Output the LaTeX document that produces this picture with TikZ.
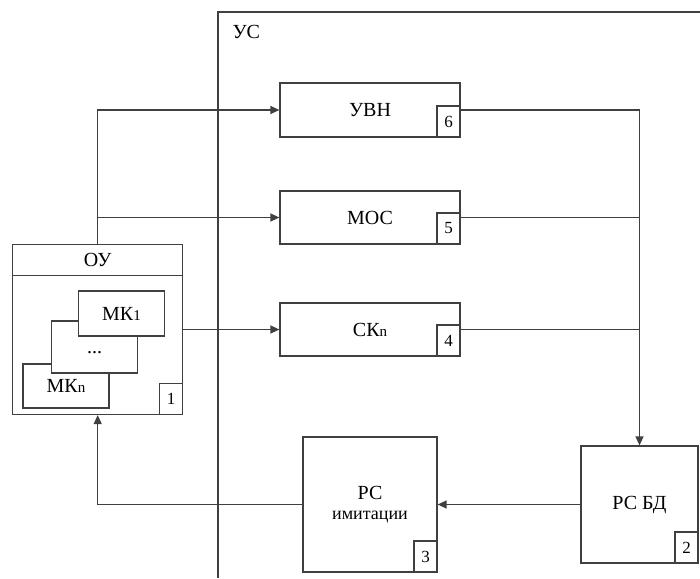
\documentclass[tikz,border=0pt]{standalone}
\usepackage{fontspec}
\setmainfont{Liberation Serif}
\usetikzlibrary{arrows.meta}

\newcommand{\smallidx}[1]{{\fontsize{15}{15}\selectfont #1}}

\tikzset{
	block/.style = {shape = rectangle, draw = black!75,
		line width = 1.2pt, fill = white, inner sep = 0pt},
	numbox/.style = {block, minimum width = 23pt, minimum height = 31pt,
		anchor = south east, font = \fontsize{17}{17}\selectfont},
	flow/.style = {draw = black!75, line width = 1.2pt,
		-{Triangle[length = 9pt, width = 8pt]}},
	wire/.style = {draw = black!75, line width = 1.2pt}
}

\begin{document}
\begin{tikzpicture}[x = 1pt, y = -1pt, font = \fontsize{20}{22}\selectfont]
\useasboundingbox (0,0) rectangle (700,578);

% Marco УС
\draw[wire] (218,578) -- (218,12) -- (700,12);
\node[anchor = base west] (us) at (229,38) {УС};

% Bloques
\begin{scope}[every node/.style = {block}]
	\node[minimum width = 180pt, minimum height = 54pt] (uvn) at (370,110) {УВН};
	\node[minimum width = 180pt, minimum height = 53pt] (mos) at (370,217.5) {МОС};
	\node[minimum width = 180pt, minimum height = 53pt] (skn) at (370,329.5) {СК\smallidx{n}};
	\node[minimum width = 170pt, minimum height = 170pt] (ou) at (97.7,329.5) {};
	\node[minimum width = 170pt, minimum height = 31pt, anchor = north] (ouhead) at (ou.north) {ОУ};
	\node[minimum width = 134pt, minimum height = 135pt, align = center] (rsim) at (370,504.5)
		{РС\\[-2pt]{\fontsize{18}{18}\selectfont имитации}};
	\node[minimum width = 117pt, minimum height = 117pt] (rsbd) at (639.5,504.5) {РС БД};
\end{scope}

% Модули МК
\begin{scope}[every node/.style = {block, minimum width = 86pt}]
	\node[minimum height = 44pt] (mkn) at (66,386) {МК\smallidx{n}};
	\node[minimum height = 52pt, text height = 13pt, text depth = 0pt] (mkdots) at (94.5,347) {...};
	\node[minimum height = 45pt] (mk1) at (121.5,313.5) {МК\smallidx{1}};
\end{scope}

% Numeros
\node[numbox] (n1) at (ou.south east) {1};
\node[numbox] (n2) at (rsbd.south east) {2};
\node[numbox] (n3) at (rsim.south east) {3};
\node[numbox] (n4) at (skn.south east) {4};
\node[numbox] (n5) at (mos.south east) {5};
\node[numbox] (n6) at (uvn.south east) {6};

% Flechas
\coordinate (split) at (ou.north |- mos.west);
\coordinate (bus) at (rsbd.north |- uvn.east);
\draw[flow] (ou.north) |- (uvn.west);
\draw[flow] (split) -- (mos.west);
\draw[flow] (ou.east) -- (skn.west);
\draw[wire] (uvn.east) -- (bus);
\draw[wire] (mos.east) -- (mos.east -| bus);
\draw[wire] (skn.east) -- (skn.east -| bus);
\draw[flow] (bus) -- (rsbd.north);
\draw[flow] (rsbd.west) -- (rsim.east);
\draw[flow] (rsim.west) -| (ou.south);
\end{tikzpicture}
\end{document}
